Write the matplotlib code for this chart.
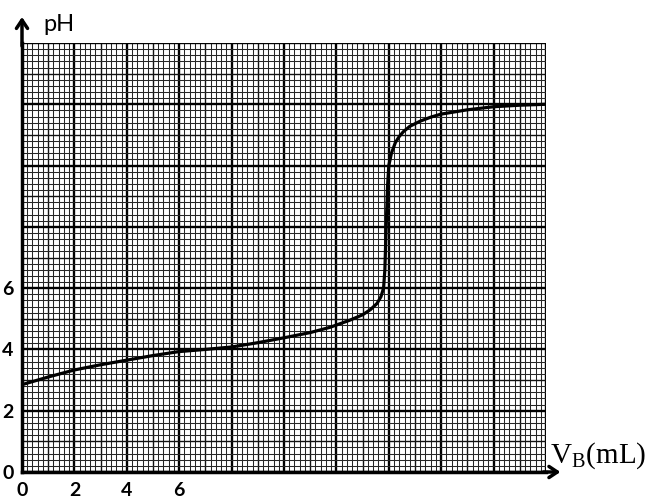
import numpy as np
import matplotlib
matplotlib.use("Agg")
import matplotlib.pyplot as plt

# titration curve
vb = [0, 1, 2, 3, 4, 5, 6, 7, 8, 9, 10, 11, 11.75, 12.5, 13.0, 13.3, 13.55,
      13.7, 13.8, 13.85, 13.9, 13.95, 14.0, 14.1, 14.25, 14.4, 14.55, 14.8,
      15.2, 15.6, 16.0, 17.0, 18.0, 19.0, 20.0]
ph = [2.85, 3.1, 3.33, 3.5, 3.65, 3.8, 3.93, 4.0, 4.08, 4.22, 4.38, 4.55,
      4.72, 4.95, 5.13, 5.3, 5.5, 5.72, 6.0, 6.6, 8.0, 9.3, 10.0, 10.4,
      10.75, 10.95, 11.1, 11.28, 11.45, 11.58, 11.68, 11.82, 11.92, 11.97,
      12.0]

xticks = [0, 2, 4, 6]
yticks = [0, 2, 4, 6]
xmax, ymax = 20, 14

plt.rcParams['mathtext.fontset'] = 'custom'
plt.rcParams['mathtext.rm'] = 'Liberation Serif'

fig = plt.figure(figsize=(6.57, 4.99), dpi=100)
ax = fig.add_axes([22 / 657, 1 - 472 / 499, 524 / 657, 429 / 499])
ax.set_xlim(0, xmax)
ax.set_ylim(0, ymax)


def paper_style(v):
    if abs(v - round(v)) < 1e-6:
        if round(v) % 2 == 0:
            return 1.7, 'black'
        return 1.0, '#111111'
    return 0.75, '#262626'


# millimetre paper
for v in np.arange(0, xmax + 0.01, 0.2):
    lw, c = paper_style(v)
    ax.axvline(v, color=c, lw=lw, zorder=1)
for v in np.arange(0, ymax + 0.01, 0.2):
    lw, c = paper_style(v)
    ax.axhline(v, color=c, lw=lw, zorder=1)

ax.plot(vb, ph, color='black', lw=2.3, zorder=3)

for s in ['top', 'right']:
    ax.spines[s].set_visible(False)
for s in ['left', 'bottom']:
    ax.spines[s].set_linewidth(2.5)
    ax.spines[s].set_zorder(4)

ax.set_xticks(xticks)
ax.set_yticks(yticks)
ax.set_xticklabels([str(t) for t in xticks], family='Lato', fontsize=14,
                   fontweight='bold')
ax.set_yticklabels([str(t) for t in yticks], family='Lato', fontsize=14,
                   fontweight='bold')
ax.tick_params(axis='x', length=0, pad=7)
ax.tick_params(axis='y', length=0, pad=6)

# axis arrows
ax.annotate('', xy=(0, 14.85), xytext=(0, 13.9), xycoords='data',
            arrowprops=dict(arrowstyle='->,head_length=0.6,head_width=0.4',
                            lw=2.5, color='black', shrinkA=0, shrinkB=0),
            annotation_clip=False)
ax.annotate('', xy=(20.55, 0), xytext=(19.9, 0), xycoords='data',
            arrowprops=dict(arrowstyle='->,head_length=0.6,head_width=0.4',
                            lw=2.5, color='black', shrinkA=0, shrinkB=0),
            annotation_clip=False)

fig.text(43 / 657, 1 - 31 / 499, 'pH', family='Lato', fontsize=17,
         ha='left', va='baseline')
fig.text(550 / 657, 1 - 463 / 499, r'V$_{\mathrm{B}}$(mL)',
         family='Liberation Serif', fontsize=21, ha='left', va='baseline')

fig.savefig('out.png', dpi=100)
